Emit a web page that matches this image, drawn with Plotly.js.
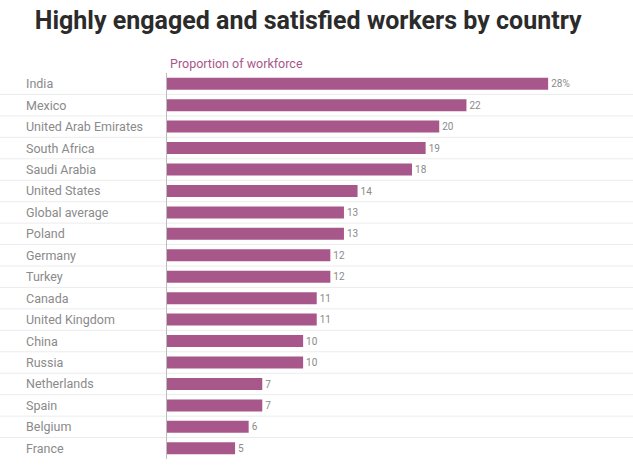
<!DOCTYPE html>
<html><head><meta charset="utf-8">
<script src="https://cdn.plot.ly/plotly-3.0.1.min.js"></script>
<style>body{margin:0;background:#fff}</style>
</head><body><div id="chart" style="width:633px;height:465px"></div>
<script>
const countries = ["India","Mexico","United Arab Emirates","South Africa","Saudi Arabia","United States","Global average","Poland","Germany","Turkey","Canada","United Kingdom","China","Russia","Netherlands","Spain","Belgium","France"];
const values = [28,22,20,19,18,14,13,13,12,12,11,11,10,10,7,7,6,5];
const labels = values.map((v, i) => i === 0 ? v + "%" : String(v));

const LABEL_X = (24 - 167) / 456;

const gridShapes = countries.slice(0, -1).map((_, i) => ({
  type: "line", xref: "paper", yref: "y",
  x0: -0.37, x1: 1.03, y0: i + 0.5, y1: i + 0.5,
  line: { color: "#ececec", width: 1 }, layer: "below",
}));

Plotly.newPlot("chart", [{
  type: "bar", orientation: "h",
  x: values, y: countries,
  marker: { color: "#a8578a" },
  text: labels, textposition: "outside", cliponaxis: false,
  textfont: { family: "Roboto, sans-serif", size: 12.5, color: "#8a8a8a" },
  hoverinfo: "none",
}], {
  width: 633, height: 465,
  margin: { t: 73, r: 10, b: 6, l: 167 },
  paper_bgcolor: "#fff", plot_bgcolor: "#fff",
  font: { family: "Roboto, sans-serif" },
  bargap: 0.44,
  showlegend: false,
  title: { text: "<b>Highly engaged and satisfied workers by country</b>",
    font: { family: "Roboto, sans-serif", size: 25, color: "#2b2b2b" },
    x: 0.055, xanchor: "left", y: 0.975, yanchor: "top" },
  xaxis: { range: [0, 33.5], showgrid: false, zeroline: false, showticklabels: false, fixedrange: true },
  yaxis: { type: "category", autorange: "reversed", showticklabels: false, showgrid: false,
    showline: true, linecolor: "#bdbdbd", linewidth: 1, zeroline: false },
  shapes: gridShapes,
  annotations: [
    ...countries.map(c => ({
      xref: "paper", yref: "y", x: LABEL_X, y: c, xanchor: "left", yanchor: "middle",
      text: c, showarrow: false, font: { family: "Roboto, sans-serif", size: 12.5, color: "#8a8a8a" },
    })),
    { xref: "paper", yref: "paper", x: 0.002, y: 1.0, xanchor: "left", yanchor: "bottom",
      text: "Proportion of workforce", showarrow: false,
      font: { family: "Roboto, sans-serif", size: 12.5, color: "#a8578a" } },
  ],
}, { displayModeBar: false, staticPlot: true });
</script></body></html>
